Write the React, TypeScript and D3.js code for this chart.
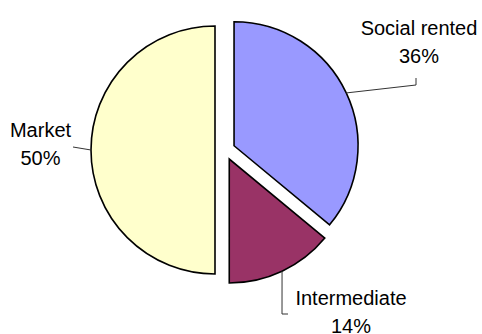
import React from "react";
import * as d3 from "d3";

const categories = ["Social rented", "Intermediate", "Market"];
const values = [36, 14, 50];
const colors = ["#9999FF", "#993366", "#FFFFCC"];
const labelText = ["36%", "14%", "50%"];

// label layout (positions only)
const labelPos = [
  { x: 419, y: 35, elbow: [[416, 85], [416, 78]] },
  { x: 351, y: 305, elbow: [[282, 314], [288, 314]] },
  { x: 40.5, y: 137, elbow: [[73, 147]] },
];

const W = 482;
const H = 334;
const CX = 225;
const CY = 150;
const R = 124;
const EXPLODE = 10;

export default function App() {
  const pie = d3
    .pie<number>()
    .sort(null)
    .value((d) => d)
    .startAngle(0)
    .endAngle(2 * Math.PI);
  const arcs = pie(values);
  const arcGen = d3.arc<d3.PieArcDatum<number>>().innerRadius(0).outerRadius(R);

  return (
    <svg
      width={W}
      height={H}
      style={{ position: "absolute", left: 0, top: 0, background: "#fff" }}
      fontFamily="'Liberation Sans', Arial, sans-serif"
    >
      {arcs.map((a, i) => {
        const mid = (a.startAngle + a.endAngle) / 2;
        const ox = Math.sin(mid) * EXPLODE;
        const oy = -Math.cos(mid) * EXPLODE;
        const ax = CX + ox + Math.sin(mid) * R;
        const ay = CY + oy - Math.cos(mid) * R;
        const lp = labelPos[i];
        const pts = [[ax, ay], ...lp.elbow];
        const line = d3.line()(pts as [number, number][]);
        return (
          <g key={categories[i]}>
            <path
              d={arcGen(a) || ""}
              transform={`translate(${CX + ox},${CY + oy})`}
              fill={colors[i]}
              stroke="#000"
              strokeWidth={1.6}
              strokeLinejoin="miter"
            />
            <path d={line || ""} fill="none" stroke="#333" strokeWidth={1} />
            <text x={lp.x} y={lp.y} fontSize={20} textAnchor="middle" fill="#000">
              {categories[i]}
            </text>
            <text x={lp.x} y={lp.y + 28} fontSize={20} textAnchor="middle" fill="#000">
              {labelText[i]}
            </text>
          </g>
        );
      })}
    </svg>
  );
}
